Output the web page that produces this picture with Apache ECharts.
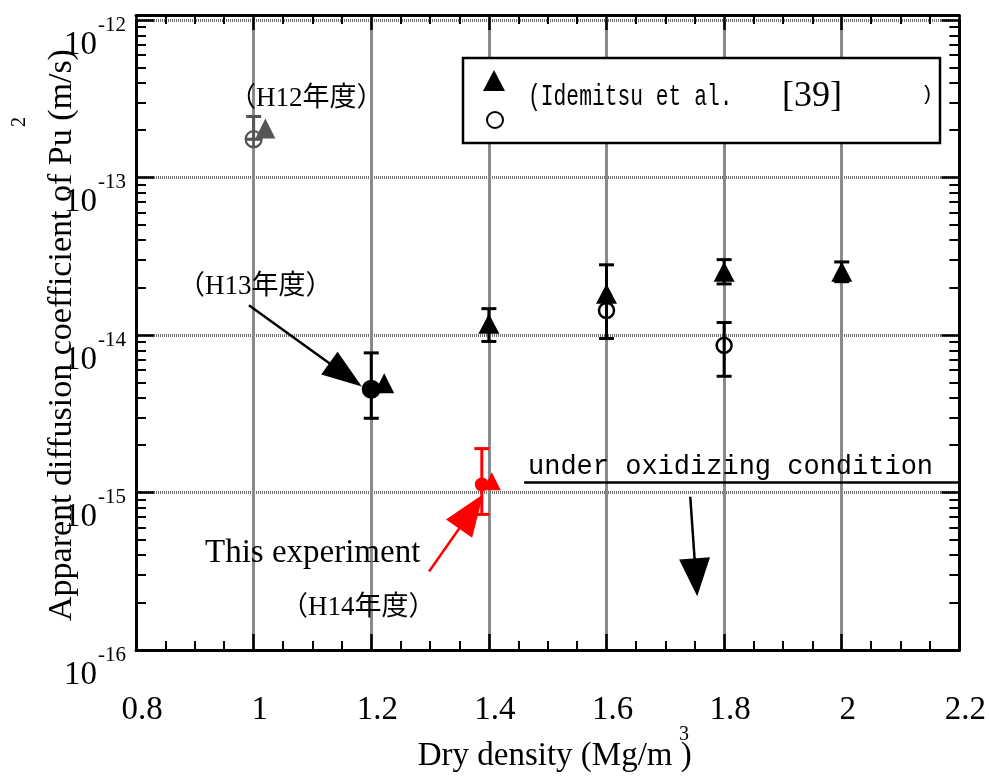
<!DOCTYPE html>
<html>
<head>
<meta charset="utf-8">
<script src="https://cdn.jsdelivr.net/npm/echarts@6/dist/echarts.min.js"></script>
<style>
  html, body { margin: 0; padding: 0; background: #fff; }
  #chart { width: 989px; height: 778px; }
</style>
</head>
<body>
<div id="chart"></div>
<script>
// ---- axis ranges ----
const xRange = [0.8, 2.2];
const xStep = 0.2;
const yRange = [1e-16, 1e-12];
const yMinorFactors = [2, 3, 4, 5, 6, 7, 8, 9];
const yDecades = [-16, -15, -14, -13];

// ---- Idemitsu et al. [39] : [dry density, apparent diffusion coefficient] ----
const idemitsuTriangles = [[1.4, 1.18e-14], [1.6, 1.83e-14], [1.8, 2.52e-14], [2.0, 2.52e-14]];
const idemitsuCircles = [[1.6, 1.43e-14], [1.8, 8.6e-15]];
// error bars : [dry density, low, high]
const idemitsuErrors = [
  [1.4, 9.1e-15, 1.47e-14],
  [1.6, 9.5e-15, 2.79e-14],
  [1.8, 2.11e-14, 3.01e-14],
  [1.8, 5.47e-15, 1.2e-14],
  [2.0, 2.18e-14, 2.91e-14]
];

// ---- H12 ----
const h12Triangle = [[1.02, 2.05e-13]];
const h12Circle = [[1.0, 1.75e-13]];
const h12Errors = [[1.0, 1.75e-13, 2.44e-13]];

// ---- H13 ----
const h13Triangle = [[1.222, 4.94e-15]];
const h13Circle = [[1.2, 4.53e-15]];
const h13Errors = [[1.2, 2.96e-15, 7.7e-15]];

// ---- H14 (this experiment) ----
const h14Triangle = [[1.405, 1.18e-15]];
const h14Circle = [[1.388, 1.125e-15]];
const h14Errors = [[1.388, 7.26e-16, 1.9e-15]];

// ---- annotation arrows / lines, in data coordinates [from, to] ----
const h13Arrow = [[0.992, 1.543e-14], [1.1564, 5.58e-15]];
const h14Arrow = [[1.2983, 3.155e-16], [1.3698, 7.58e-16]];
const limitArrow = [[1.7424, 9.4e-16], [1.752, 2.89e-16]];
const oxidizingLine = [[1.46, 1.17e-15], [2.2, 1.17e-15]];

const SERIF = "'Liberation Serif', 'Times New Roman', serif";
const SERIF_CJK = "'Liberation Serif', 'Noto Sans CJK JP', serif";
const MONO = "'Liberation Mono', 'DejaVu Sans Mono', monospace";
const GRAY = '#555555';
const RED = '#ff0000';
const GRID_GRAY = '#8a8a8a';
const TRI = 'Idemitsu et al. [39] triangles';
const CIR = 'Idemitsu et al. [39] circles';

const yMinorTicks = [];
yDecades.forEach(d => yMinorFactors.forEach(k => yMinorTicks.push(k * Math.pow(10, d))));

function errSeries(name, data, color) {
  return {
    name, type: 'custom', data, z: 2, silent: true,
    encode: { x: 0, y: [1, 2] },
    renderItem(params, api) {
      const hi = api.coord([api.value(0), api.value(2)]);
      const lo = api.coord([api.value(0), api.value(1)]);
      const w = 7.5;
      const st = { stroke: color, lineWidth: 3 };
      return {
        type: 'group',
        children: [
          { type: 'line', shape: { x1: hi[0], y1: hi[1], x2: lo[0], y2: lo[1] }, style: st },
          { type: 'line', shape: { x1: hi[0] - w, y1: hi[1], x2: hi[0] + w, y2: hi[1] }, style: st },
          { type: 'line', shape: { x1: lo[0] - w, y1: lo[1], x2: lo[0] + w, y2: lo[1] }, style: st }
        ]
      };
    }
  };
}

function arrow(pts, head) {
  return [
    { coord: pts[0], symbol: 'none' },
    { coord: pts[1], symbol: 'triangle', symbolSize: head }
  ];
}

function markLines(color, items) {
  return {
    silent: true, animation: false,
    symbol: ['none', 'none'],
    label: { show: false },
    lineStyle: { color, width: 2.5, type: 'solid', opacity: 1 },
    itemStyle: { color, opacity: 1 },
    emphasis: { disabled: true },
    data: items
  };
}

function scatter(name, data, symbol, size, itemStyle, extra) {
  return Object.assign({
    name, type: 'scatter', data, z: 3, symbol, symbolSize: size,
    itemStyle: Object.assign({ opacity: 1 }, itemStyle),
    emphasis: { disabled: true }
  }, extra || {});
}

const axisLineStyle = { show: true, lineStyle: { color: '#000', width: 3 } };

const xBase = {
  type: 'value', min: xRange[0], max: xRange[1], interval: xStep,
  axisLine: axisLineStyle,
  axisTick: { show: true, inside: true, length: 16, lineStyle: { color: '#000', width: 2.5 } },
  minorTick: { show: true, splitNumber: 4, length: 9, lineStyle: { color: '#000', width: 2 } }
};

const yBase = {
  type: 'log', logBase: 10, min: yRange[0], max: yRange[1],
  axisLine: axisLineStyle,
  axisTick: { show: true, inside: true, length: 18, lineStyle: { color: '#000', width: 2.5 } },
  axisLabel: { show: false },
  splitLine: { show: false }
};

const yMinor = {
  type: 'log', logBase: 10, min: yRange[0], max: yRange[1],
  axisLine: { show: false },
  axisTick: { show: true, inside: true, length: 10, customValues: yMinorTicks, lineStyle: { color: '#000', width: 2 } },
  axisLabel: { show: false },
  splitLine: { show: false }
};

const chart = echarts.init(document.getElementById('chart'), null, { renderer: 'canvas' });

chart.setOption({
  backgroundColor: '#fff',
  animation: false,
  grid: { left: 136, right: 27, top: 20, bottom: 124, containLabel: false },
  xAxis: [
    Object.assign({}, xBase, {
      position: 'bottom',
      name: 'Dry density (Mg/m )',
      nameLocation: 'middle',
      nameGap: 90,
      nameMoveOverlap: false,
      nameTextStyle: { fontFamily: SERIF, fontSize: 33, color: '#000', padding: [0, 0, 0, 14] },
      axisLabel: {
        margin: 44, fontFamily: SERIF, fontSize: 33, color: '#000', padding: [0, 0, 0, 12],
        formatter: v => String(Math.round(v * 10) / 10)
      },
      splitLine: { show: true, showMinLine: false, showMaxLine: false, lineStyle: { color: GRID_GRAY, width: 3 } }
    }),
    Object.assign({}, xBase, {
      position: 'top', offset: 5,
      axisTick: { show: true, inside: true, length: 15, lineStyle: { color: '#000', width: 2.5 } },
      axisLabel: { show: false },
      splitLine: { show: false }
    })
  ],
  yAxis: [
    Object.assign({}, yBase, {
      position: 'left',
      name: 'Apparent diffusion coefficient of Pu (m/s)',
      nameLocation: 'middle',
      nameRotate: 90,
      nameGap: 57,
      nameMoveOverlap: false,
      nameTextStyle: { fontFamily: SERIF, fontSize: 34, color: '#000' },
      axisLabel: {
        show: true, margin: 10, verticalAlign: 'top',
        formatter: v => '{e|' + Math.round(Math.log10(v)) + '}\n{b|10}',
        rich: {
          e: { fontFamily: SERIF, fontSize: 21, lineHeight: 10, align: 'right', color: '#000' },
          b: { fontFamily: SERIF, fontSize: 33, lineHeight: 30, align: 'right', color: '#000', padding: [0, 29, 0, 0] }
        }
      },
      splitLine: { show: true, showMinLine: false, showMaxLine: false, lineStyle: { color: '#6e6e6e', width: 3, type: [1, 1] } }
    }),
    Object.assign({}, yMinor, { position: 'left' }),
    Object.assign({}, yBase, { position: 'right' }),
    Object.assign({}, yMinor, { position: 'right' })
  ],
  legend: [
    {
      data: [TRI], left: 483, top: 70, itemWidth: 22, itemHeight: 21, padding: 0,
      formatter: () => '', selectedMode: false, z: 5
    },
    {
      data: [CIR], left: 486, top: 111, itemWidth: 16, itemHeight: 16, padding: 0,
      formatter: () => '', selectedMode: false, z: 5
    }
  ],
  series: [
    errSeries('Idemitsu errors', idemitsuErrors, '#000'),
    errSeries('H12 errors', h12Errors, GRAY),
    errSeries('H13 errors', h13Errors, '#000'),
    errSeries('H14 errors', h14Errors, RED),
    scatter(TRI, idemitsuTriangles, 'triangle', [21, 20], { color: '#000' }, {
      markLine: markLines('#000', [
        arrow(limitArrow, [31, 38]),
        [{ coord: oxidizingLine[0] }, { coord: oxidizingLine[1] }]
      ])
    }),
    scatter(CIR, idemitsuCircles, 'circle', 15,
      { color: 'rgba(0,0,0,0)', borderColor: '#000', borderWidth: 2.5 }),
    scatter('H12 triangle', h12Triangle, 'triangle', 20, { color: GRAY }),
    scatter('H12 circle', h12Circle,
      'path://M0,10A10,10,0,1,1,20,10A10,10,0,1,1,0,10ZM10,0L10,20M0,10L20,10', 16,
      { color: 'rgba(0,0,0,0)', borderColor: GRAY, borderWidth: 2.2 }),
    scatter('H13 triangle', h13Triangle, 'triangle', 20, { color: '#000' }),
    scatter('H13 circle', h13Circle, 'circle', 19, { color: '#000' }, {
      markLine: markLines('#000', [arrow(h13Arrow, [28, 40])])
    }),
    scatter('H14 triangle', h14Triangle, 'triangle', 18, { color: RED }),
    scatter('H14 circle', h14Circle, 'circle', 14, { color: RED }, {
      markLine: markLines(RED, [arrow(h14Arrow, [32, 42])])
    })
  ],
  graphic: [
    // legend frame
    { type: 'rect', z: 3, shape: { x: 463, y: 58, width: 477, height: 85 },
      style: { fill: '#fff', stroke: '#000', lineWidth: 2.5 } },
    { type: 'text', z: 10, x: 528, y: 97, scaleX: 0.71,
      style: { text: '(Idemitsu et al.', font: '30px ' + MONO, fill: '#000', verticalAlign: 'middle', textVerticalAlign: 'middle' } },
    { type: 'text', z: 10, x: 782, y: 97,
      style: { text: '[39]', font: '36px ' + SERIF, fill: '#000', verticalAlign: 'middle', textVerticalAlign: 'middle' } },
    { type: 'text', z: 10, x: 921, y: 95,
      style: { text: ')', font: '20px ' + MONO, fill: '#000', verticalAlign: 'middle', textVerticalAlign: 'middle' } },
    // superscripts of axis titles
    { type: 'text', z: 10, x: 20, y: 122, rotation: Math.PI / 2,
      style: { text: '2', font: '20px ' + SERIF, fill: '#000', align: 'center', textAlign: 'center', verticalAlign: 'middle', textVerticalAlign: 'middle' } },
    { type: 'text', z: 10, x: 684, y: 735,
      style: { text: '3', font: '20px ' + SERIF, fill: '#000', align: 'center', textAlign: 'center', verticalAlign: 'middle', textVerticalAlign: 'middle' } },
    // annotations
    { type: 'text', z: 10, x: 229, y: 99,
      style: { text: '（H12年度）', font: '27px ' + SERIF_CJK, fill: '#000', verticalAlign: 'middle', textVerticalAlign: 'middle' } },
    { type: 'text', z: 10, x: 178, y: 287,
      style: { text: '（H13年度）', font: '27px ' + SERIF_CJK, fill: '#000', verticalAlign: 'middle', textVerticalAlign: 'middle' } },
    { type: 'text', z: 10, x: 205, y: 553,
      style: { text: 'This experiment', font: '33px ' + SERIF, fill: '#000', verticalAlign: 'middle', textVerticalAlign: 'middle' } },
    { type: 'text', z: 10, x: 281, y: 608,
      style: { text: '（H14年度）', font: '27px ' + SERIF_CJK, fill: '#000', verticalAlign: 'middle', textVerticalAlign: 'middle' } },
    { type: 'text', z: 10, x: 528, y: 467,
      style: { text: 'under oxidizing condition', font: '27px ' + MONO, fill: '#000', verticalAlign: 'middle', textVerticalAlign: 'middle' } }
  ]
});
</script>
</body>
</html>
